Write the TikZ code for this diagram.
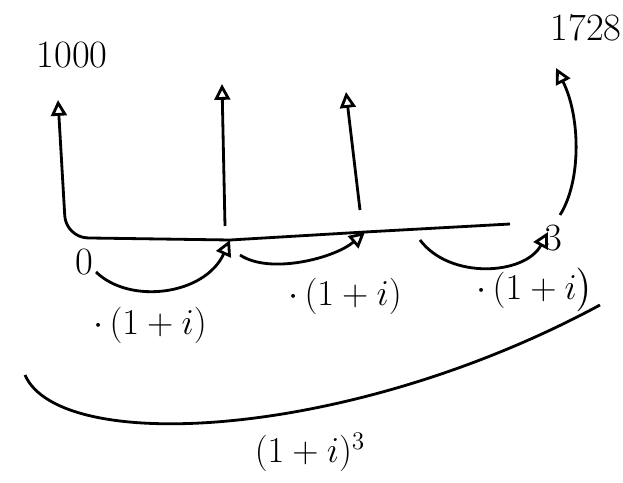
\documentclass[tikz,border=0pt]{standalone}
\usepackage{amsmath}
\usetikzlibrary{arrows.meta, positioning, calc}

\begin{document}
\begin{tikzpicture}[x=0.02cm, y=-0.02cm, >={Triangle[open,length=9pt,width=9pt]},
  line width=1.6pt, every node/.style={font=\fontsize{22}{26}\selectfont}]
  \useasboundingbox (0,0) rectangle (623,483);
  % time axis
  \coordinate (t0) at (90,238);
  \coordinate (t1) at (230,240);
  \coordinate (t2) at (365,232);
  \coordinate (t3) at (555,226);
  \draw (t0) -- (t1) -- (t2) -- (510,224);
  % cash flows
  \coordinate (c0) at (58,100);
  \coordinate (c1) at (222,84);
  \coordinate (c2) at (346,92);
  \coordinate (c3) at (556,68);
  \draw[->, rounded corners=12pt] (t0) -- (66,237) -- (c0);
  \draw[->] (225,226) -- (c1);
  \draw[->] (360,210) -- (c2);
  \draw[->] (560,215) .. controls (582,180) and (580,115) .. (c3);
  \node (v0) at (72,55) {1000};
  \node (v3) at (586,28) {1728};
  % periods
  \node (p0) at (84,262) {0};
  \node (p3) at (553,238) {3};
  \draw[->] (96,272) .. controls (130,305) and (205,295) .. (t1);
  \draw[->] (240,255) .. controls (270,275) and (335,258) .. (t2);
  \draw[->] (420,240) .. controls (450,280) and (525,275) .. (548,232);
  \node (f0) at (150,325) {$\cdot\,(1+i)$};
  \node (f1) at (345,296) {$\cdot\,(1+i)$};
  \node (f2) at (535,290) {$\cdot\,(1+i\big)$};
  % total
  \draw (25,375) .. controls (60,455) and (350,440) .. (600,305);
  \node (ft) at (310,452) {$(1+i)^3$};
\end{tikzpicture}
\end{document}
